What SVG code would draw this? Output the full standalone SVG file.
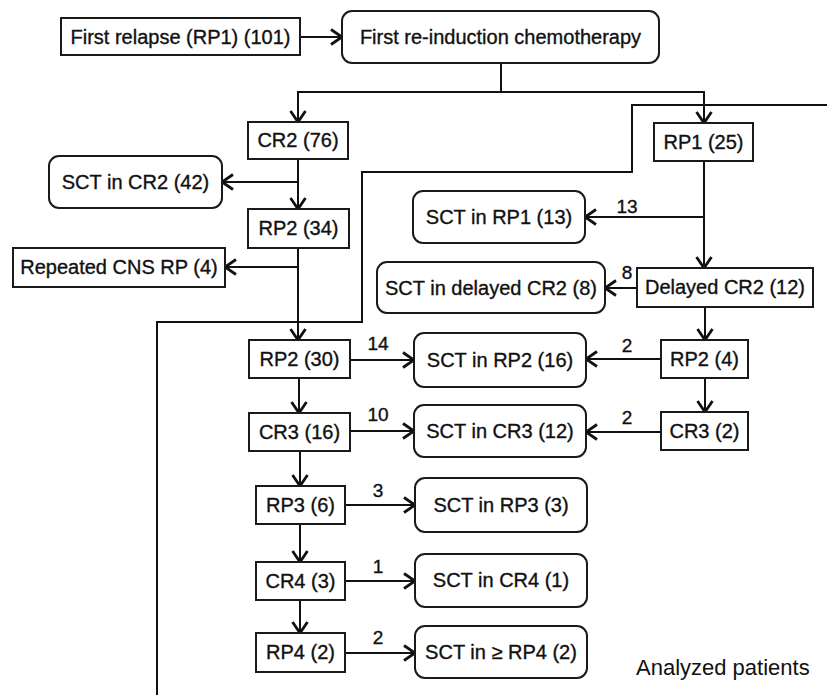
<svg xmlns="http://www.w3.org/2000/svg" width="827" height="695" viewBox="0 0 827 695">
<defs>
<style>
.box{fill:#fff;stroke:#1a1a1a;stroke-width:2}
.t{font-family:"Liberation Sans",Arial,sans-serif;font-size:20px;fill:#111;stroke:#111;stroke-width:0.35;text-anchor:middle}
.lbl{font-family:"Liberation Sans",Arial,sans-serif;font-size:19px;fill:#111;stroke:#111;stroke-width:0.35;text-anchor:middle}
.ap{font-family:"Liberation Sans",Arial,sans-serif;font-size:22px;fill:#111}
.c{fill:none;stroke:#111;stroke-width:2}
.a{fill:none;stroke:#111;stroke-width:2;marker-end:url(#arr)}
</style>
<marker id="arr" viewBox="-13 -9 15 18" refX="0" refY="0" markerWidth="15" markerHeight="18" markerUnits="userSpaceOnUse" orient="auto">
<path d="M-11,-7.5 L0,0 L-11,7.5" fill="none" stroke="#111" stroke-width="2.8" stroke-linejoin="miter"/>
</marker>
</defs>
<rect width="827" height="695" fill="#fff"/>

<g id="connectors">
<path class="c" d="M827,105 H632 V172 H362 V322 H157 V695"/>
<path class="a" d="M300,37 H342"/>
<path class="c" d="M501,63 V92"/>
<path class="a" d="M501,92 H298 V122"/>
<path class="a" d="M501,92 H704 V123"/>
<path class="a" d="M298,159 V209"/>
<path class="a" d="M298,182 H222"/>
<path class="a" d="M298,248 V340"/>
<path class="a" d="M298,267 H225"/>
<path class="a" d="M704,161 V268"/>
<path class="a" d="M704,217 H585"/>
<path class="a" d="M637,288 H605"/>
<path class="a" d="M705,307 V340"/>
<path class="a" d="M661,359 H586"/>
<path class="a" d="M705,378 V412"/>
<path class="a" d="M661,432 H586"/>
<path class="a" d="M350,360 H414"/>
<path class="a" d="M299,378 V413"/>
<path class="a" d="M350,431 H414"/>
<path class="a" d="M300,451 V486"/>
<path class="a" d="M345,505 H415"/>
<path class="a" d="M300,524 V562"/>
<path class="a" d="M345,581 H415"/>
<path class="a" d="M300,600 V633"/>
<path class="a" d="M345,653 H415"/>
</g>

<g id="labels">
<text class="lbl" x="627" y="213">13</text>
<text class="lbl" x="627" y="279">8</text>
<text class="lbl" x="627" y="352">2</text>
<text class="lbl" x="627" y="424">2</text>
<text class="lbl" x="378" y="350">14</text>
<text class="lbl" x="378" y="421">10</text>
<text class="lbl" x="378" y="497">3</text>
<text class="lbl" x="378" y="573">1</text>
<text class="lbl" x="378" y="644">2</text>
</g>

<g id="n-first-relapse"><rect class="box" x="61" y="18" width="239" height="37"/><text class="t" x="180.5" y="44">First relapse (RP1) (101)</text></g>
<g id="n-chemo"><rect class="box" x="342" y="11" width="317" height="52" rx="10"/><text class="t" x="500.5" y="44">First re-induction chemotherapy</text></g>
<g id="n-cr2-76"><rect class="box" x="248" y="122" width="100" height="37"/><text class="t" x="298" y="147">CR2 (76)</text></g>
<g id="n-sct-cr2"><rect class="box" x="49" y="156" width="173" height="52" rx="10"/><text class="t" x="135.5" y="189">SCT in CR2 (42)</text></g>
<g id="n-rp2-34"><rect class="box" x="248" y="209" width="101" height="39"/><text class="t" x="298.5" y="235">RP2 (34)</text></g>
<g id="n-cns"><rect class="box" x="13" y="248" width="212" height="39"/><text class="t" x="119" y="274">Repeated CNS RP (4)</text></g>
<g id="n-rp1-25"><rect class="box" x="654" y="123" width="99" height="38"/><text class="t" x="703.5" y="149">RP1 (25)</text></g>
<g id="n-sct-rp1"><rect class="box" x="413" y="191" width="172" height="52" rx="10"/><text class="t" x="499" y="224">SCT in RP1 (13)</text></g>
<g id="n-delayed"><rect class="box" x="637" y="268" width="176" height="39"/><text class="t" x="725" y="294">Delayed CR2 (12)</text></g>
<g id="n-sct-delayed"><rect class="box" x="377" y="262" width="228" height="51" rx="10"/><text class="t" x="491" y="295">SCT in delayed CR2 (8)</text></g>
<g id="n-rp2-30"><rect class="box" x="249" y="340" width="101" height="38"/><text class="t" x="299.5" y="366">RP2 (30)</text></g>
<g id="n-sct-rp2"><rect class="box" x="414" y="333" width="172" height="54" rx="10"/><text class="t" x="500" y="367">SCT in RP2 (16)</text></g>
<g id="n-rp2-4"><rect class="box" x="661" y="340" width="87" height="38"/><text class="t" x="704.5" y="366">RP2 (4)</text></g>
<g id="n-cr3-16"><rect class="box" x="249" y="413" width="101" height="38"/><text class="t" x="299.5" y="439">CR3 (16)</text></g>
<g id="n-sct-cr3"><rect class="box" x="414" y="405" width="172" height="52" rx="10"/><text class="t" x="500" y="438">SCT in CR3 (12)</text></g>
<g id="n-cr3-2"><rect class="box" x="661" y="412" width="87" height="38"/><text class="t" x="704.5" y="438">CR3 (2)</text></g>
<g id="n-rp3"><rect class="box" x="256" y="486" width="89" height="38"/><text class="t" x="300.5" y="512">RP3 (6)</text></g>
<g id="n-sct-rp3"><rect class="box" x="415" y="478" width="172" height="54" rx="10"/><text class="t" x="501" y="512">SCT in RP3 (3)</text></g>
<g id="n-cr4"><rect class="box" x="256" y="562" width="89" height="38"/><text class="t" x="300.5" y="588">CR4 (3)</text></g>
<g id="n-sct-cr4"><rect class="box" x="415" y="554" width="172" height="53" rx="10"/><text class="t" x="501" y="587">SCT in CR4 (1)</text></g>
<g id="n-rp4"><rect class="box" x="256" y="633" width="89" height="39"/><text class="t" x="300.5" y="659">RP4 (2)</text></g>
<g id="n-sct-rp4"><rect class="box" x="415" y="626" width="172" height="52" rx="10"/><text class="t" x="501" y="659">SCT in ≥ RP4 (2)</text></g>
<g id="n-analyzed"><text class="ap" x="636" y="675">Analyzed patients</text></g>
</svg>
